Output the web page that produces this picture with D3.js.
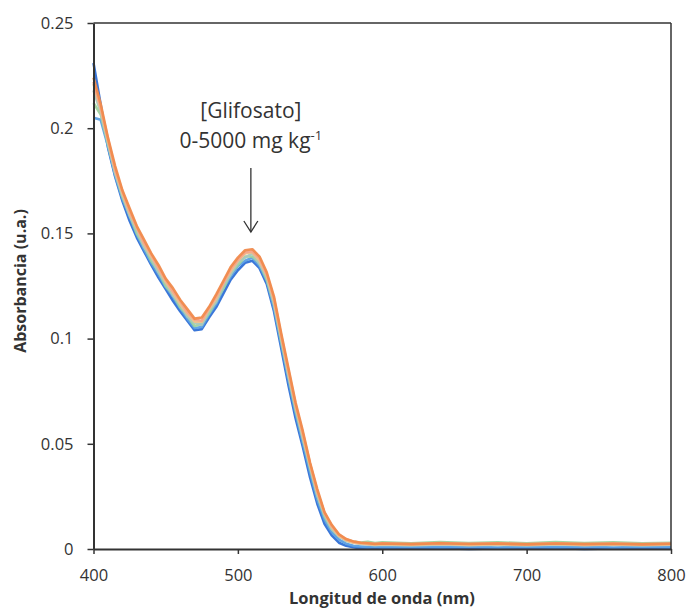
<!DOCTYPE html>
<html><head><meta charset="utf-8">
<script src="https://cdn.jsdelivr.net/npm/d3@7"></script>
<style>body{margin:0;background:#fff}svg{display:block}</style>
</head><body>
<svg id="c" width="689" height="611"></svg>
<script>
const wavelengths = [400,405,410,415,420,425,430,435,440,445,450,455,460,465,470,475,480,485,490,495,500,505,510,515,520,525,530,535,540,545,550,555,560,565,570,575,580,585,590,595,600,620,640,660,680,700,720,740,760,780,800];
const s1 = [.231,.211,.191,.177,.1655,.156,.148,.1415,.135,.129,.1235,.118,.113,.1085,.104,.1045,.110,.115,.1215,.128,.1325,.136,.137,.1335,.126,.113,.0955,.078,.062,.0485,.034,.0215,.012,.0065,.003,.0015,.0008,.0003,.0005,.0001,.0003,.0001,.0004,.0000,.0003,.0001,.0004,.0000,.0003,.0001,.0002];
const s2 = [.205,.204,.1915,.1775,.1665,.158,.1495,.1425,.136,.1305,.1245,.120,.1145,.1095,.105,.1055,.1115,.1165,.124,.1295,.1345,.137,.1385,.1345,.1275,.1145,.0975,.0805,.0645,.0505,.0365,.0235,.014,.008,.0045,.0025,.0015,.0012,.0009,.0012,.0008,.0011,.0008,.0012,.0007,.0011,.0008,.0012,.0007,.0011,.0009];
const s3 = [.212,.2065,.1925,.179,.1675,.159,.150,.144,.137,.132,.125,.121,.115,.111,.106,.107,.112,.118,.124,.131,.135,.139,.139,.136,.128,.1165,.099,.0825,.066,.0525,.0385,.0255,.0155,.0095,.006,.0042,.0035,.0031,.0034,.0028,.0032,.0027,.0033,.0028,.0032,.0027,.0033,.0028,.0032,.0027,.003];
const s4 = [.218,.2075,.1935,.1785,.1685,.1585,.1515,.1435,.1385,.1315,.1265,.1205,.1165,.1105,.1075,.1065,.1135,.1175,.1255,.1305,.1365,.1385,.1405,.1355,.1295,.1165,.1005,.0825,.0675,.0525,.0395,.0255,.0165,.0095,.0062,.0038,.0031,.0024,.0022,.0018,.0021,.0017,.0022,.0018,.0021,.0017,.0022,.0018,.0021,.0017,.002];
const s5 = [.221,.209,.194,.180,.169,.160,.1525,.145,.139,.1335,.127,.122,.1165,.112,.108,.108,.114,.119,.1265,.132,.137,.1405,.141,.137,.130,.118,.101,.084,.068,.054,.040,.027,.017,.0105,.0062,.0042,.003,.0026,.0023,.002,.0023,.002,.0024,.0019,.0023,.002,.0024,.0019,.0023,.002,.0022];
const s6 = [.222,.210,.195,.1805,.170,.1605,.153,.1455,.140,.1335,.128,.1225,.118,.1125,.109,.1085,.1145,.120,.1265,.133,.1375,.141,.1415,.138,.1305,.119,.1015,.085,.0685,.055,.0405,.0275,.017,.011,.0068,.0046,.0035,.003,.0028,.0025,.0027,.0024,.0028,.0025,.0027,.0023,.0027,.0024,.0026,.0023,.0026];
const s7 = [.224,.2115,.1955,.182,.1705,.162,.1535,.147,.1405,.135,.1285,.124,.1185,.114,.1095,.110,.115,.121,.1275,.134,.1385,.142,.1425,.139,.1315,.120,.1025,.086,.0695,.056,.041,.0285,.0175,.0115,.007,.0047,.0036,.003,.0027,.0024,.0026,.0023,.0027,.0024,.0026,.0022,.0026,.0023,.0025,.0022,.0025];
const seriesList = [s1,s2,s3,s4,s5,s6,s7];
const seriesColors = ["#2f6fd6","#5a9fe4","#9fd49c","#a9c8bd","#efc08a","#f4a48c","#f08a4c"];
const xTicks = [400,500,600,700,800];
const yTicks = [0,0.05,0.1,0.15,0.2,0.25];
const yTickLabels = ["0","0.05","0.1","0.15","0.2","0.25"];
const annotationLines = ["[Glifosato]","0-5000 mg kg"];
const annotationSup = "-1";
const xTitle = "Longitud de onda (nm)";
const yTitle = "Absorbancia (u.a.)";

const svg = d3.select("#c");
const L=93.5, R=671, T=23, B=549;
const x = d3.scaleLinear().domain([400,800]).range([L,R]);
const y = d3.scaleLinear().domain([0,0.25]).range([B,T]);
const font = "'Open Sans', sans-serif";
const axCol = "#333";

// lines
const line = d3.line().x((d,i)=>x(wavelengths[i])).y(d=>y(d));
seriesList.forEach((s,k)=>{
  svg.append("path").attr("d", line(s)).attr("fill","none")
    .attr("stroke", seriesColors[k]).attr("stroke-width",2.6)
    .attr("stroke-linejoin","round").attr("opacity",0.95);
});

// frame
svg.append("line").attr("x1",L).attr("x2",R).attr("y1",T).attr("y2",T).attr("stroke",axCol).attr("stroke-width",1.5);
svg.append("line").attr("x1",R).attr("x2",R).attr("y1",T).attr("y2",B).attr("stroke",axCol).attr("stroke-width",1.5);

// axes
const xa = svg.append("g").attr("transform",`translate(0,${B})`)
  .call(d3.axisBottom(x).tickValues(xTicks).tickSize(5).tickSizeOuter(0).tickPadding(15));
const ya = svg.append("g").attr("transform",`translate(${L},0)`)
  .call(d3.axisLeft(y).tickValues(yTicks).tickFormat((d,i)=>yTickLabels[i]).tickSize(6).tickSizeOuter(0).tickPadding(14));
[xa,ya].forEach(g=>{
  g.select(".domain").attr("stroke",axCol).attr("stroke-width",2);
  g.selectAll(".tick line").attr("stroke",axCol).attr("stroke-width",1.5);
  g.selectAll(".tick text").attr("fill","#333").style("font-family",font).style("font-size","16.5px");
});

// titles
svg.append("text").attr("x",382).attr("y",604).attr("text-anchor","middle")
  .style("font-family",font).style("font-size","16.5px").style("font-weight","bold").attr("fill","#333").text(xTitle);
svg.append("text").attr("transform","translate(26,281) rotate(-90)").attr("text-anchor","middle")
  .style("font-family",font).style("font-size","16px").style("font-weight","bold").attr("fill","#333").text(yTitle);

// annotation
const ax = x(509);
svg.append("text").attr("x",ax).attr("y",118).attr("text-anchor","middle")
  .style("font-family",font).style("font-size","21px").attr("fill","#333").text(annotationLines[0]);
const t2 = svg.append("text").attr("x",ax).attr("y",148).attr("text-anchor","middle")
  .style("font-family",font).style("font-size","21px").attr("fill","#333");
t2.append("tspan").text(annotationLines[1]);
t2.append("tspan").attr("dy",-8).style("font-size","13px").text(annotationSup);
svg.append("line").attr("x1",ax).attr("x2",ax).attr("y1",168).attr("y2",232).attr("stroke","#333").attr("stroke-width",1.3);
svg.append("path").attr("d",`M${ax-7},${221}L${ax},${232}L${ax+7},${221}`).attr("fill","none").attr("stroke","#333").attr("stroke-width",1.3);
</script>
</body></html>
